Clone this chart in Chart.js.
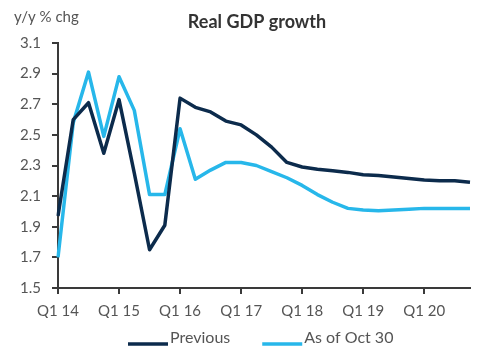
<!DOCTYPE html>
<html>
<head>
<meta charset="utf-8">
<script src="https://cdn.jsdelivr.net/npm/chart.js@4"></script>
<style>
  html, body { margin: 0; padding: 0; background: #fff; }
  #wrap { width: 502px; height: 361px; position: relative; }
</style>
</head>
<body>
<div id="wrap"><canvas id="gdpChart"></canvas></div>
<script>
// Quarters, Q1 2014 .. Q4 2020
var quarters = [
  'Q1 14', 'Q2 14', 'Q3 14', 'Q4 14',
  'Q1 15', 'Q2 15', 'Q3 15', 'Q4 15',
  'Q1 16', 'Q2 16', 'Q3 16', 'Q4 16',
  'Q1 17', 'Q2 17', 'Q3 17', 'Q4 17',
  'Q1 18', 'Q2 18', 'Q3 18', 'Q4 18',
  'Q1 19', 'Q2 19', 'Q3 19', 'Q4 19',
  'Q1 20', 'Q2 20', 'Q3 20', 'Q4 20'
];

// y/y % chg
var previous = [
  1.97, 2.60, 2.71, 2.38,
  2.73, 2.25, 1.75, 1.91,
  2.74, 2.68, 2.65, 2.59,
  2.565, 2.50, 2.42, 2.32,
  2.29, 2.275, 2.265, 2.255,
  2.24, 2.235, 2.225, 2.215,
  2.205, 2.20, 2.20, 2.19
];

var asOfOct30 = [
  1.70, 2.58, 2.91, 2.49,
  2.88, 2.66, 2.11, 2.11,
  2.54, 2.21, 2.27, 2.32,
  2.32, 2.30, 2.26, 2.22,
  2.17, 2.11, 2.06, 2.02,
  2.01, 2.005, 2.01, 2.015,
  2.02, 2.02, 2.02, 2.02
];

var yTicks = [1.5, 1.7, 1.9, 2.1, 2.3, 2.5, 2.7, 2.9, 3.1];

var FONT = 'Lato, "Noto Sans", sans-serif';
var axisColor = '#3a3a3a';
var textColor = '#555';

// draws the title, unit label and the legend underneath the axis
var decorations = {
  id: 'decorations',
  afterDraw: function (chart) {
    var ctx = chart.ctx;
    ctx.save();
    ctx.textBaseline = 'middle';

    ctx.fillStyle = '#333';
    ctx.font = 'bold 18px ' + FONT;
    ctx.textAlign = 'center';
    ctx.fillText('Real GDP growth', 257, 22);

    ctx.fillStyle = textColor;
    ctx.font = '15px ' + FONT;
    ctx.textAlign = 'left';
    ctx.fillText('y/y % chg', 14, 17);

    // legend
    ctx.font = '16px ' + FONT;
    var x = 128;
    chart.data.datasets.forEach(function (ds) {
      ctx.strokeStyle = ds.borderColor;
      ctx.lineWidth = 3.5;
      ctx.beginPath();
      ctx.moveTo(x, 344);
      ctx.lineTo(x + 40, 344);
      ctx.stroke();
      ctx.fillStyle = textColor;
      ctx.fillText(ds.label, x + 42, 338);
      x += 42 + ctx.measureText(ds.label).width + 32;
    });
    ctx.restore();
  }
};

var ctx = document.getElementById('gdpChart').getContext('2d');
var gdpChart = new Chart(ctx, {
  type: 'line',
  data: {
    labels: quarters,
    datasets: [{
      label: 'Previous',
      data: previous,
      borderColor: '#0c2b4c',
      borderWidth: 3.5,
      pointRadius: 0,
      tension: 0,
      borderJoinStyle: 'round'
    }, {
      label: 'As of Oct 30',
      data: asOfOct30,
      borderColor: '#27b7ea',
      borderWidth: 3.5,
      pointRadius: 0,
      tension: 0,
      borderJoinStyle: 'round'
    }]
  },
  options: {
    responsive: true,
    maintainAspectRatio: false,
    animation: false,
    layout: {
      padding: { top: 43, right: 32, bottom: 43, left: 0 }
    },
    scales: {
      x: {
        offset: false,
        border: { display: true, color: axisColor, width: 2 },
        grid: {
          drawOnChartArea: false,
          tickLength: 6,
          lineWidth: 2,
          color: function (c) {
            return c.index % 4 === 0 ? axisColor : 'rgba(0,0,0,0)';
          }
        },
        ticks: {
          autoSkip: false,
          maxRotation: 0,
          padding: 8,
          color: textColor,
          font: { family: FONT, size: 15 },
          callback: function (value, index) {
            return index % 4 === 0 ? quarters[index] : '';
          }
        },
        afterFit: function (scale) { scale.height = 30; }
      },
      y: {
        min: 1.5,
        max: 3.1,
        border: { display: true, color: axisColor, width: 2 },
        grid: {
          drawOnChartArea: false,
          tickLength: 6,
          lineWidth: 2,
          color: axisColor
        },
        afterBuildTicks: function (scale) {
          scale.ticks = yTicks.map(function (v) { return { value: v }; });
        },
        ticks: {
          padding: 11,
          color: textColor,
          font: { family: FONT, size: 15 },
          callback: function (value) { return Number(value).toFixed(1); }
        },
        afterFit: function (scale) { scale.width = 58; }
      }
    },
    plugins: {
      legend: { display: false },
      tooltip: { enabled: false }
    }
  },
  plugins: [decorations]
});
</script>
</body>
</html>
